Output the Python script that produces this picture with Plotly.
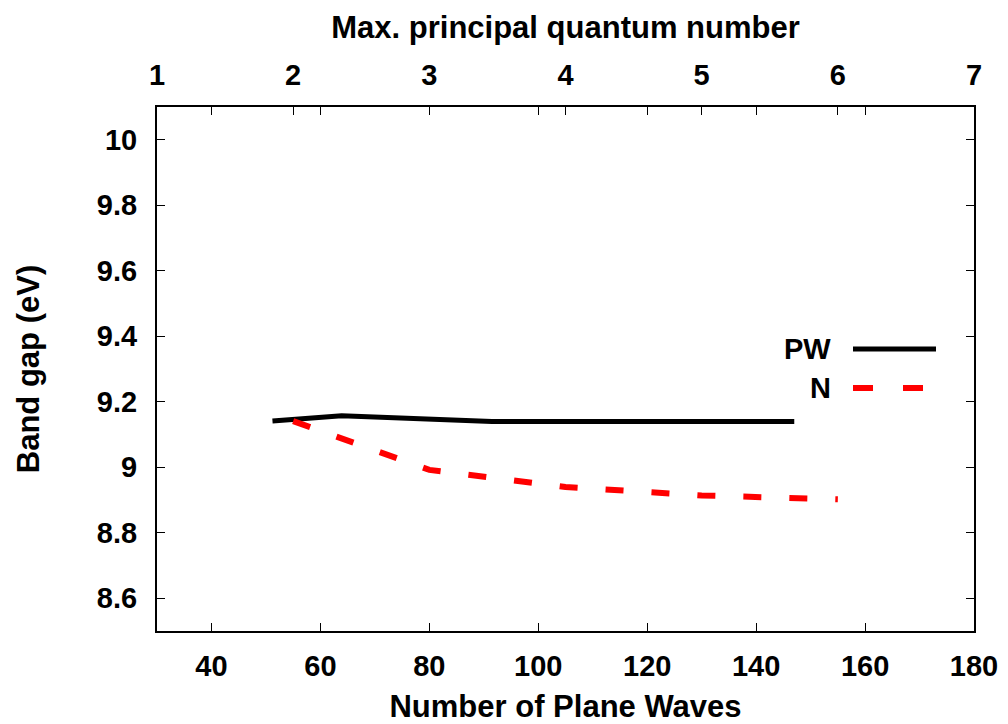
import plotly.graph_objects as go

# Data
pw_waves = [51.2, 63.9, 91.5, 119.0, 147.0]
pw_gap = [9.141, 9.157, 9.140, 9.141, 9.140]

n_quantum = [2, 3, 4, 5, 6]
n_gap = [9.141, 8.992, 8.940, 8.914, 8.902]

y_ticks = [8.6, 8.8, 9.0, 9.2, 9.4, 9.6, 9.8, 10.0]
y_ticktext = ["8.6", "8.8", "9", "9.2", "9.4", "9.6", "9.8", "10"]
x_ticks = [40, 60, 80, 100, 120, 140, 160, 180]
x2_ticks = [1, 2, 3, 4, 5, 6, 7]

FONT = "Liberation Sans"
TICK = dict(family=FONT, size=29, color="black", weight="bold")
TITLE = dict(family=FONT, size=31, color="black", weight="bold")

fig = go.Figure()
fig.add_trace(go.Scatter(x=pw_waves, y=pw_gap, mode="lines", name="PW",
                         line=dict(color="black", width=5), xaxis="x", yaxis="y",
                         showlegend=False))
fig.add_trace(go.Scatter(x=n_quantum, y=n_gap, mode="lines", name="N",
                         line=dict(color="#ff0000", width=6, dash="18px,28px"),
                         xaxis="x2", yaxis="y", showlegend=False))

L, R, T, B = 157, 974, 107, 631
W, H = 1008, 724
pw_ = R - L
ph_ = B - T

def px(x):
    return (x - L) / pw_

def py(y):
    return (B - y) / ph_

shapes = [
    dict(type="line", xref="paper", yref="paper", x0=px(853), x1=px(936),
         y0=py(349), y1=py(349), line=dict(color="black", width=5)),
    dict(type="line", xref="paper", yref="paper", x0=px(853), x1=px(936),
         y0=py(388), y1=py(388), line=dict(color="#ff0000", width=6, dash="20px,30px")),
]
annotations = [
    dict(xref="paper", yref="paper", x=px(833), y=py(349), text="PW", showarrow=False,
         xanchor="right", yanchor="middle", font=dict(family=FONT, size=29, color="black", weight="bold")),
    dict(xref="paper", yref="paper", x=px(833), y=py(388), text="N", showarrow=False,
         xanchor="right", yanchor="middle", font=dict(family=FONT, size=29, color="black", weight="bold")),
]

fig.update_layout(
    width=W, height=H,
    margin=dict(l=L, r=W - R, t=T, b=H - B),
    plot_bgcolor="white", paper_bgcolor="white",
    shapes=shapes, annotations=annotations,
    xaxis=dict(range=[30, 180], tickvals=x_ticks, ticks="inside", ticklen=8,
               tickwidth=1, tickcolor="black", showline=True, linecolor="black",
               linewidth=2, mirror="ticks", showgrid=False, zeroline=False,
               tickfont=TICK, ticklabelstandoff=8, automargin=False,
               title=dict(text="Number of Plane Waves", font=TITLE, standoff=20)),
    xaxis2=dict(range=[1, 7], tickvals=x2_ticks, ticks="inside", ticklen=8,
                tickwidth=1, tickcolor="black", overlaying="x", side="top",
                showline=False, showgrid=False, zeroline=False,
                tickfont=TICK, ticklabelstandoff=15, automargin=False,
                title=dict(text="Max. principal quantum number", font=TITLE, standoff=11)),
    yaxis=dict(range=[8.5, 10.1], tickvals=y_ticks, ticktext=y_ticktext,
               ticks="inside", ticklen=8, tickwidth=1, tickcolor="black",
               showline=True, linecolor="black", linewidth=2, mirror="ticks",
               showgrid=False, zeroline=False, tickfont=TICK, ticklabelstandoff=12,
               automargin=False,
               title=dict(text="Band gap (eV)", font=TITLE, standoff=48)),
)

fig.write_html("out.html")
